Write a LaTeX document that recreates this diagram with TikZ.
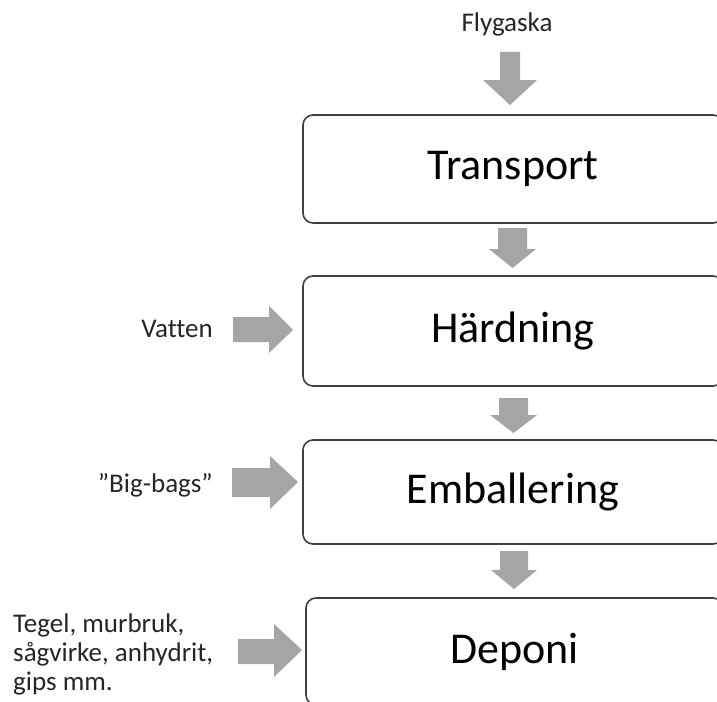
\documentclass[tikz,border=0pt]{standalone}
\usepackage{fontspec}
\setmainfont{Carlito}[Ligatures=NoCommon]
\definecolor{arrowgray}{HTML}{A5A5A5}
\definecolor{boxline}{HTML}{404040}
\definecolor{labeltext}{HTML}{262626}
\newcommand{\blkdown}[6]{% cx, ytop, yhead, ytip, shaftw, headw
  \fill[arrowgray] ({#1-#5/2},#2) -- ({#1+#5/2},#2) -- ({#1+#5/2},#3) -- ({#1+#6/2},#3)
    -- (#1,#4) -- ({#1-#6/2},#3) -- ({#1-#5/2},#3) -- cycle;}
\begin{document}
\begin{tikzpicture}[x=1pt,y=-1pt,
  stagebox/.style={draw=boxline, line width=1.6pt, rounded corners=10pt, fill=white,
    minimum width=420pt, inner sep=0pt, font=\fontsize{44}{50}\selectfont, text=black},
  lbl/.style={inner sep=0pt, font=\fontsize{27}{29}\selectfont, text=labeltext}]
\useasboundingbox (0,0) rectangle (717,701);
\clip (0,0) rectangle (717,701);
\fill[white] (0,0) rectangle (717,701);
% stage boxes
\node[stagebox, minimum height=108pt] (transport) at (513,169) {Transport};
\node[stagebox, minimum height=110pt] (hardning) at (513,331) {Härdning};
\node[stagebox, minimum height=104pt] (emball) at (513,492) {Emballering};
\node[stagebox, minimum width=417pt, minimum height=107pt] (deponi) at (514.5,651.5) {Deponi};
% labels
\node[lbl, anchor=base] (flyg) at (507,32) {Flygaska};
\node[lbl, anchor=base east] (vatten) at (213,337) {Vatten};
\node[lbl, anchor=base east] (bigbags) at (213,492) {”Big-bags”};
\node[lbl, anchor=base west] (teg1) at (13,632) {Tegel, murbruk,};
\node[lbl, anchor=base west] (teg2) at (13,661) {sågvirke, anhydrit,};
\node[lbl, anchor=base west] (teg3) at (13,690) {gips mm.};
% down block arrows
\blkdown{510}{52}{80}{105}{20}{54}
\blkdown{512.5}{228}{249}{268}{29}{47}
\blkdown{513.5}{398}{415}{433}{29}{47}
\blkdown{514}{551}{570}{589}{28}{46}
% right block arrows
\fill[arrowgray] (233,317) -- (269,317) -- (269,306) -- (293,330) -- (269,353) -- (269,342) -- (233,342) -- cycle;
\fill[arrowgray] (232,468) -- (270,468) -- (270,456) -- (298,482) -- (270,509) -- (270,497) -- (232,497) -- cycle;
\fill[arrowgray] (238,639) -- (274,639) -- (274,624) -- (302,650) -- (274,677) -- (274,664) -- (238,664) -- cycle;
\end{tikzpicture}
\end{document}
